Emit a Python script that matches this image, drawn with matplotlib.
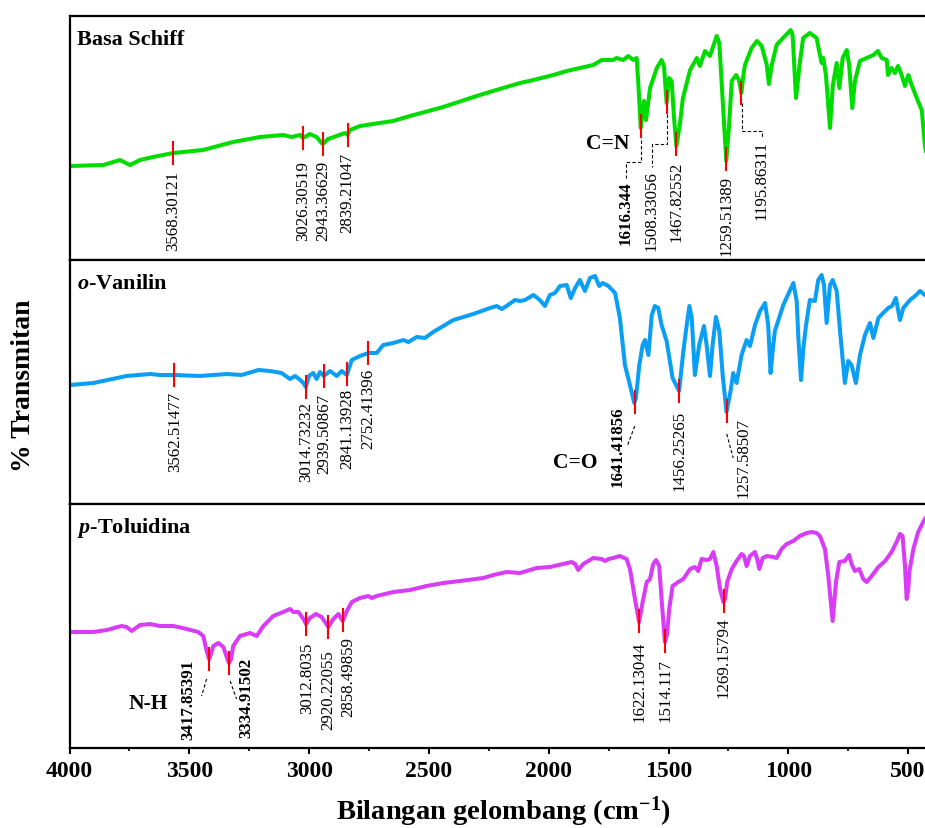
import numpy as np
import matplotlib
matplotlib.use("Agg")
import matplotlib.pyplot as plt

plt.rcParams['font.family'] = ['Liberation Serif', 'DejaVu Serif']
plt.rcParams['mathtext.fontset'] = 'custom'
plt.rcParams['mathtext.rm'] = 'Liberation Serif:bold'
plt.rcParams['mathtext.bf'] = 'Liberation Serif:bold'
plt.rcParams['mathtext.it'] = 'Liberation Serif:italic:bold'

# ---------------- FTIR spectra (wavenumber in cm-1, transmittance in arbitrary units) ----------------
schiff_wn = [3998, 3859, 3790, 3748, 3706, 3652, 3567, 3443, 3318, 3205, 3109, 3073, 3038, 3026,
             2997, 2969, 2948, 2943, 2921, 2885, 2850, 2839, 2830, 2788, 2734, 2650, 2579, 2441,
             2301, 2233, 2120, 2064, 1981, 1925, 1870, 1814, 1779, 1731, 1717, 1689, 1668, 1647,
             1633, 1625, 1616, 1610, 1602, 1594, 1577, 1549, 1529, 1519, 1508, 1498, 1487, 1477,
             1467, 1452, 1440, 1410, 1382, 1369, 1348, 1327, 1299, 1288, 1277, 1259, 1248, 1236,
             1218, 1206, 1196, 1189, 1181, 1153, 1131, 1111, 1090, 1081, 1069, 1049, 1022, 990,
             982, 968, 952, 938, 910, 882, 868, 861, 854, 843, 826, 814, 798, 787, 773, 756, 746,
             733, 722, 701, 673, 645, 626, 610, 589, 584, 569, 555, 542, 527, 513, 499, 485, 464,
             443, 430, 421]
schiff_t = [94, 95, 100, 95, 100, 103, 107, 110, 118, 123, 125, 123, 125, 122,
            126, 123, 117, 116, 121, 124, 127, 125, 130, 134, 136, 139, 144, 153,
            164, 169, 177, 180, 185, 189, 192, 195, 200, 200, 202, 200, 204, 200,
            202, 172, 132, 144, 159, 140, 172, 192, 200, 194, 157, 182, 179, 142,
            114, 137, 162, 190, 202, 194, 209, 204, 224, 217, 172, 99, 132, 179,
            185, 180, 167, 182, 195, 212, 219, 214, 195, 176, 195, 215, 222, 230,
            225, 162, 197, 222, 227, 222, 205, 197, 202, 185, 132, 175, 197, 172, 202, 210, 195,
            152, 179, 199, 202, 205, 209, 202, 200, 185, 192, 187, 194, 185, 174, 185, 175, 162,
            150, 115, 102]

vanilin_wn = [3998, 3901, 3762, 3664, 3623, 3560, 3456, 3344, 3282, 3212, 3164, 3115, 3080, 3059,
              3042, 3024, 3014, 3001, 2983, 2969, 2955, 2939, 2913, 2885, 2864, 2843, 2822, 2788,
              2753, 2718, 2691, 2649, 2607, 2586, 2551, 2517, 2482, 2440, 2398, 2315, 2245, 2217,
              2196, 2176, 2141, 2120, 2099, 2064, 2037, 2016, 1995, 1974, 1953, 1925, 1908, 1890,
              1870, 1849, 1828, 1807, 1789, 1775, 1751, 1723, 1703, 1682, 1661, 1643, 1636, 1622,
              1608, 1598, 1584, 1570, 1557, 1543, 1529, 1508, 1483, 1460, 1456, 1438, 1424, 1413,
              1403, 1390, 1372, 1352, 1341, 1327, 1316, 1302, 1288, 1274, 1258, 1241, 1230, 1216,
              1195, 1174, 1160, 1139, 1118, 1097, 1084, 1074, 1064, 1056, 1021, 979, 965, 958, 947,
              937, 926, 910, 889, 875, 861, 851, 840, 826, 815, 798, 784, 764, 750, 736, 718, 701,
              680, 659, 645, 624, 604, 583, 567, 551, 534, 520, 492, 471, 450, 430, 421]
vanilin_t = [119, 121, 128, 130, 129, 129, 128, 130, 129, 134, 133, 131, 125, 128,
             125, 121, 117, 128, 131, 125, 132, 128, 133, 128, 133, 129, 144, 148,
             151, 151, 159, 161, 164, 162, 167, 166, 172, 178, 184, 190, 196, 198,
             195, 198, 204, 203, 204, 209, 204, 198, 209, 211, 218, 219, 206, 216,
             224, 213, 226, 228, 218, 221, 218, 211, 186, 139, 119, 101, 106, 139,
             159, 164, 149, 189, 198, 196, 179, 163, 126, 115, 113, 153, 179, 198,
             186, 129, 159, 178, 159, 128, 159, 187, 173, 129, 92, 113, 131, 121,
             149, 164, 158, 179, 193, 201, 179, 131, 156, 173, 199, 221, 203, 166, 124,
             156, 179, 204, 203, 224, 229, 219, 181, 219, 224, 213, 173, 121, 143, 139, 121, 149,
             169, 181, 166, 186, 191, 196, 198, 206, 184, 196, 204, 208, 213, 209, 208]

toluidina_wn = [3998, 3901, 3845, 3783, 3762, 3741, 3706, 3664, 3623, 3567, 3511, 3463, 3442, 3428,
                3418, 3410, 3400, 3379, 3358, 3344, 3335, 3326, 3317, 3289, 3247, 3219, 3191, 3150,
                3108, 3080, 3066, 3045, 3024, 3013, 2997, 2972, 2948, 2920, 2899, 2878, 2860, 2843,
                2822, 2788, 2753, 2739, 2718, 2649, 2579, 2510, 2440, 2370, 2273, 2231, 2176, 2120,
                2050, 1995, 1904, 1890, 1877, 1856, 1814, 1779, 1765, 1751, 1731, 1703, 1675, 1661,
                1640, 1623, 1608, 1591, 1577, 1564, 1552, 1539, 1529, 1515, 1506, 1497, 1483, 1459,
                1438, 1410, 1390, 1376, 1362, 1341, 1327, 1313, 1299, 1285, 1271, 1264, 1255, 1236,
                1216, 1195, 1185, 1174, 1160, 1139, 1130, 1121, 1107, 1090, 1063, 1049, 1028, 1007,
                979, 952, 923, 902, 882, 868, 847, 833, 815, 801, 787, 764, 746, 736, 722, 704, 687,
                673, 652, 624, 596, 569, 548, 534, 523, 513, 506, 499, 495, 478, 458, 437, 430, 421]
toluidina_t = [116, 116, 118, 122, 121, 117, 123, 124, 122, 122, 119, 116, 112, 97,
               89, 94, 102, 105, 101, 91, 85, 89, 102, 112, 115, 112, 122, 132,
               136, 139, 136, 136, 129, 124, 130, 134, 131, 121, 129, 134, 127, 137,
               146, 150, 152, 150, 152, 156, 158, 162, 165, 167, 170, 173, 176, 175,
               180, 181, 186, 184, 178, 184, 190, 189, 187, 189, 190, 192, 189, 179,
               149, 126, 146, 166, 169, 184, 188, 182, 149, 106, 114, 139, 162, 166,
               169, 179, 181, 177, 189, 188, 189, 196, 182, 159, 146, 149, 166, 179,
               187, 194, 192, 182, 192, 196, 189, 179, 190, 192, 191, 190, 199, 204,
               207, 212, 215, 216, 215, 212, 199, 172, 127, 166, 186, 187, 193, 184, 177, 179, 169,
               166, 172, 181, 187, 196, 206, 214, 212, 182, 149, 159, 176, 199, 216, 226, 229, 232]

panel_names = ['Basa Schiff', r'$\mathit{o}$-Vanilin', r'$\mathit{p}$-Toluidina']
panel_colors = ['#00DC00', '#0A9EF5', '#D83CF6']

# peaks marked on each spectrum
schiff_peaks = ['3568.30121', '3026.30519', '2943.36629', '2839.21047',
                '1616.344', '1508.33056', '1467.82552', '1259.51389', '1195.86311']
vanilin_peaks = ['3562.51477', '3014.73232', '2939.50867', '2841.13928', '2752.41396',
                 '1641.41856', '1456.25265', '1257.58507']
toluidina_peaks = ['3417.85391', '3334.91502', '3012.8035', '2920.22055', '2858.49859',
                   '1622.13044', '1514.117', '1269.15794']
bold_peaks = {'1616.344', '1641.41856', '3417.85391', '3334.91502'}

# label placement: (x of text centre, top of text) in data units
schiff_label_pos = [(3568, 90), (3027, 100), (2941, 100), (2841, 108),
                    (1678, 80), (1570, 90), (1466, 99), (1260, 85), (1111, 120)]
vanilin_label_pos = [(3560, 113), (3013, 103), (2938, 111), (2841, 116), (2753, 136),
                     (1714, 99), (1455, 94), (1188, 87)]
toluidina_label_pos = [(3505, 89), (3261, 91), (3008, 106), (2920, 99), (2837, 112),
                       (1623, 107), (1512, 90), (1269, 131)]

# dashed leader lines
schiff_leaders = [[(1616, 120), (1616, 98), (1678, 98), (1678, 82)],
                  [(1508, 146), (1508, 116), (1570, 116), (1570, 93)],
                  [(1195, 157), (1195, 129), (1111, 129), (1111, 122)]]
vanilin_leaders = [[(1641, 78), (1672, 58)],
                   [(1257, 70), (1230, 46)]]
toluidina_leaders = [[(3428, 69), (3449, 52)],
                     [(3330, 67), (3303, 49)]]

group_labels = [('C=N', 1753, 117), ('C=O', 1890, 42), ('N-H', 3671, 45)]

spectra = [(schiff_wn, schiff_t, schiff_peaks, schiff_label_pos, schiff_leaders),
           (vanilin_wn, vanilin_t, vanilin_peaks, vanilin_label_pos, vanilin_leaders),
           (toluidina_wn, toluidina_t, toluidina_peaks, toluidina_label_pos, toluidina_leaders)]

x_ticks = [4000, 3500, 3000, 2500, 2000, 1500, 1000, 500]

# ---------------- figure ----------------
W, H = 925, 829
fig = plt.figure(figsize=(W / 100, H / 100), dpi=100)
left = 69.6 / W
right = 1.004
top = 1 - 17 / H
bottom = 1 - 749 / H
ph = (top - bottom) / 3

axes = []
for i in range(3):
    ax = fig.add_axes([left, top - (i + 1) * ph, right - left, ph])
    axes.append(ax)

TICK_HALF = 11

for i, (ax, (wn, t, peaks, lpos, leaders)) in enumerate(zip(axes, spectra)):
    wn_a = np.array(wn, dtype=float)
    t_a = np.array(t, dtype=float)
    ax.plot(wn_a, t_a, color=panel_colors[i], lw=2.9, solid_joinstyle='round',
            solid_capstyle='round', zorder=2)
    ax.set_xlim(4000, 414)
    ax.set_ylim(0, 244)
    ax.set_yticks([])
    for s in ax.spines.values():
        s.set_linewidth(1.6)

    for lab, (tx, ty) in zip(peaks, lpos):
        p = float(lab)
        yc = np.interp(p, wn_a[::-1], t_a[::-1])
        ax.plot([p, p], [yc - TICK_HALF, yc + TICK_HALF], color='#FF0000', lw=1.5, zorder=3)
        ax.text(tx, ty, lab, rotation=90, ha='center', va='top', fontsize=12.2,
                fontweight='bold' if lab in bold_peaks else 'normal', zorder=4)

    for path in leaders:
        xs, ys = zip(*path)
        ax.plot(xs, ys, color='black', lw=0.8, ls=(0, (3, 2)), zorder=3)

    ax.text(77 / W / (right - left) - left / (right - left) + 0.0, 1 - 23 / 244,
            panel_names[i], transform=ax.transAxes, ha='left', va='center',
            fontsize=16, fontweight='bold')

    if i < 2:
        ax.set_xticks([])
    else:
        ax.set_xticks(x_ticks)
        ax.set_xticks(np.arange(4000, 400, -250), minor=True)
        ax.tick_params(axis='x', which='major', direction='out', length=4, width=1.5,
                       labelsize=17, pad=5)
        ax.tick_params(axis='x', which='minor', direction='out', length=2.5, width=1.2)
        for lab in ax.get_xticklabels():
            lab.set_fontweight('bold')

for ax_i, (txt, gx, gy) in zip([0, 1, 2], group_labels):
    axes[ax_i].text(gx, gy, txt, ha='center', va='center', fontsize=15.5,
                    fontweight='bold', zorder=4)

fig.text(503 / W, 1 - 812 / H, r'Bilangan gelombang (cm$^{-1}$)', ha='center', va='center',
         fontsize=20.5, fontweight='bold')
fig.text(24 / W, 1 - 386 / H, '% Transmitan', rotation=90, ha='center', va='center',
         fontsize=20, fontweight='bold')

fig.savefig('out.png', dpi=100, facecolor='white')
